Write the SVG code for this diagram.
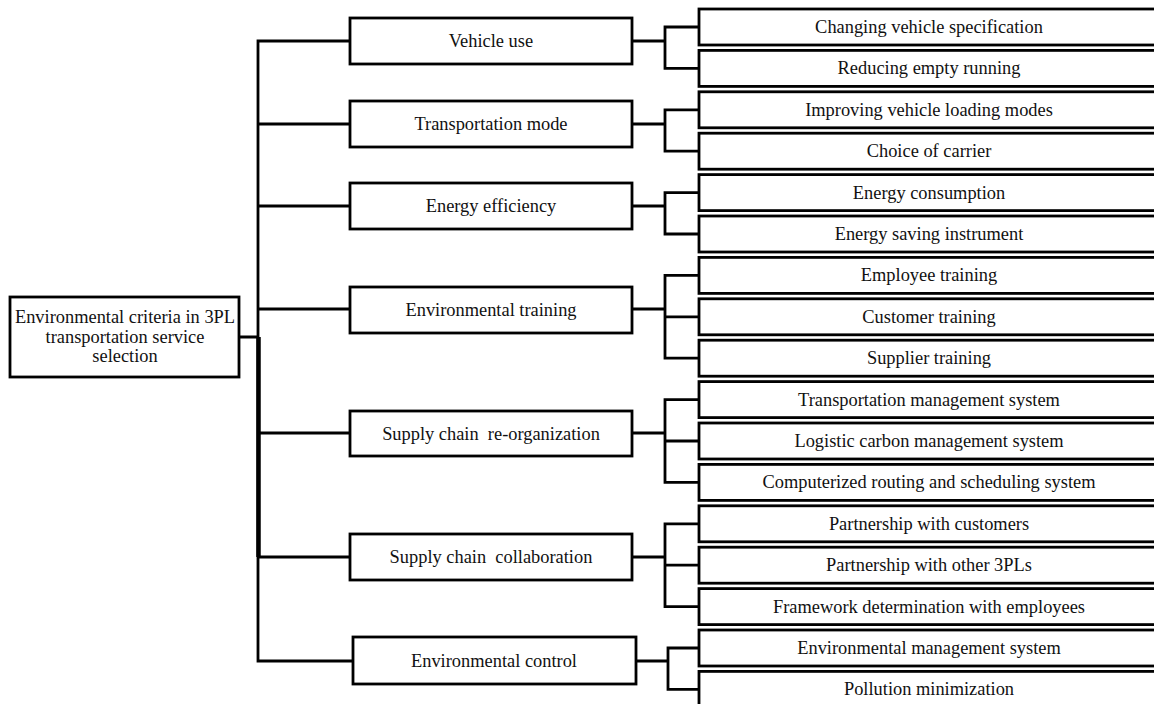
<svg xmlns="http://www.w3.org/2000/svg" width="1154" height="704" viewBox="0 0 1154 704">
<style>
rect{fill:#fff;stroke:#000;stroke-width:2.8}
text{font-family:"Liberation Serif","Times New Roman",serif;font-size:18.4px;fill:#111;text-anchor:middle;white-space:pre}
.c{fill:none;stroke:#000;stroke-width:2.8;stroke-linejoin:miter;stroke-linecap:square}
.t{fill:none;stroke:#000;stroke-width:4.5}
</style>
<rect x="0" y="0" width="1154" height="704" style="stroke:none"/>
<g id="connectors">
<path class="c" d="M258 41V661M239 337H258M258 41H350M258 124H350M258 206H350M258 309H350M258 433H350M258 557H350M258 661H353"/>
<path class="t" d="M258.5 337V557"/>
<path class="c" d="M632 41H665M665 27V68.4M665 27H699M665 68.4H699"/>
<path class="c" d="M632 124H665M665 109.8V151.2M665 109.8H699M665 151.2H699"/>
<path class="c" d="M632 206H665M665 192.6V234M665 192.6H699M665 234H699"/>
<path class="c" d="M632 309H665M665 275.4V358.2M665 275.4H699M665 316.8H699M665 358.2H699"/>
<path class="c" d="M632 433H665M665 399.6V482.4M665 399.6H699M665 441H699M665 482.4H699"/>
<path class="c" d="M632 557H665M665 523.8V606.6M665 523.8H699M665 565.2H699M665 606.6H699"/>
<path class="c" d="M636 661H668M668 648V689.4M668 648H699M668 689.4H699"/>
</g>
<g id="root"><rect x="10" y="297" width="229" height="80"/>
<text x="125" y="323">Environmental criteria in 3PL</text><text x="125" y="342.5">transportation service</text><text x="125" y="362">selection</text></g>
<g id="m1"><rect x="350" y="18" width="282" height="46"/><text x="491" y="47">Vehicle use</text></g>
<g id="m2"><rect x="350" y="101" width="282" height="46"/><text x="491" y="130">Transportation mode</text></g>
<g id="m3"><rect x="350" y="183" width="282" height="46"/><text x="491" y="212">Energy efficiency</text></g>
<g id="m4"><rect x="350" y="287" width="282" height="46"/><text x="491" y="316">Environmental training</text></g>
<g id="m5"><rect x="350" y="411" width="282" height="45"/><text x="491" y="439.5">Supply chain  re-organization</text></g>
<g id="m6"><rect x="350" y="534" width="282" height="46"/><text x="491" y="563">Supply chain  collaboration</text></g>
<g id="m7"><rect x="353" y="637" width="283" height="47"/><text x="494" y="667">Environmental control</text></g>
<g id="c1"><rect x="699" y="9" width="462" height="36"/><text x="929" y="33">Changing vehicle specification</text></g>
<g id="c2"><rect x="699" y="50.4" width="462" height="36"/><text x="929" y="74.4">Reducing empty running</text></g>
<g id="c3"><rect x="699" y="91.8" width="462" height="36"/><text x="929" y="115.8">Improving vehicle loading modes</text></g>
<g id="c4"><rect x="699" y="133.2" width="462" height="36"/><text x="929" y="157.2">Choice of carrier</text></g>
<g id="c5"><rect x="699" y="174.6" width="462" height="36"/><text x="929" y="198.6">Energy consumption</text></g>
<g id="c6"><rect x="699" y="216" width="462" height="36"/><text x="929" y="240">Energy saving instrument</text></g>
<g id="c7"><rect x="699" y="257.4" width="462" height="36"/><text x="929" y="281.4">Employee training</text></g>
<g id="c8"><rect x="699" y="298.8" width="462" height="36"/><text x="929" y="322.8">Customer training</text></g>
<g id="c9"><rect x="699" y="340.2" width="462" height="36"/><text x="929" y="364.2">Supplier training</text></g>
<g id="c10"><rect x="699" y="381.6" width="462" height="36"/><text x="929" y="405.6">Transportation management system</text></g>
<g id="c11"><rect x="699" y="423" width="462" height="36"/><text x="929" y="447">Logistic carbon management system</text></g>
<g id="c12"><rect x="699" y="464.4" width="462" height="36"/><text x="929" y="488.4">Computerized routing and scheduling system</text></g>
<g id="c13"><rect x="699" y="505.8" width="462" height="36"/><text x="929" y="529.8">Partnership with customers</text></g>
<g id="c14"><rect x="699" y="547.2" width="462" height="36"/><text x="929" y="571.2">Partnership with other 3PLs</text></g>
<g id="c15"><rect x="699" y="588.6" width="462" height="36"/><text x="929" y="612.6">Framework determination with employees</text></g>
<g id="c16"><rect x="699" y="630" width="462" height="36"/><text x="929" y="654">Environmental management system</text></g>
<g id="c17"><rect x="699" y="671.4" width="462" height="36"/><text x="929" y="695.4">Pollution minimization</text></g>
</svg>
